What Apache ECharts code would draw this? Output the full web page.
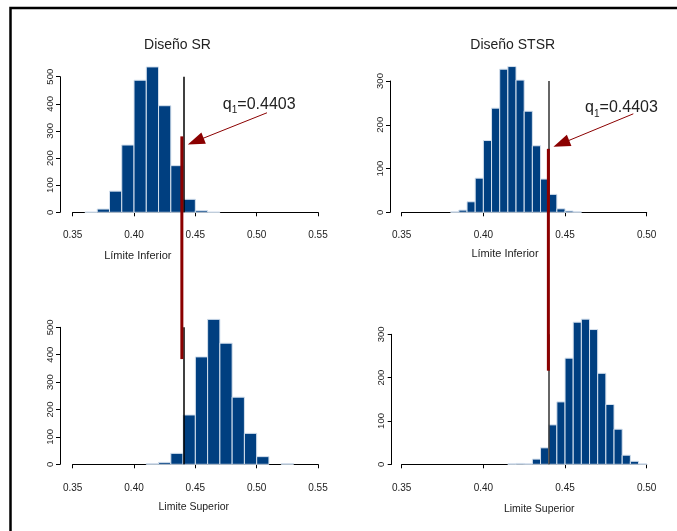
<!DOCTYPE html>
<html>
<head>
<meta charset="utf-8">
<title>Diseño SR / STSR</title>
<script src="https://cdn.jsdelivr.net/npm/echarts@6/dist/echarts.min.js"></script>
<style>
  html, body { margin: 0; padding: 0; background: #fff; }
  #main { width: 677px; height: 531px; }
</style>
</head>
<body>
<div id="main"></div>
<script>
  // bordes de clase y frecuencias de cada histograma
  const srInfEdges = [0.36, 0.37, 0.38, 0.39, 0.40, 0.41, 0.42, 0.43, 0.44, 0.45, 0.46, 0.47];
  const srInfCounts = [1, 12, 78, 248, 487, 536, 393, 172, 48, 6, 1];

  const srSupEdges = [0.41, 0.42, 0.43, 0.44, 0.45, 0.46, 0.47, 0.48, 0.49, 0.50, 0.51, 0.52, 0.53];
  const srSupCounts = [2, 7, 40, 180, 392, 529, 442, 245, 113, 28, 0, 2];

  const stsrInfEdges = [0.38, 0.385, 0.39, 0.395, 0.40, 0.405, 0.41, 0.415, 0.42, 0.425, 0.43, 0.435, 0.44, 0.445, 0.45, 0.455, 0.46];
  const stsrInfCounts = [1, 5, 24, 78, 164, 238, 327, 333, 302, 231, 152, 76, 41, 8, 3, 1];

  const stsrSupEdges = [0.415, 0.42, 0.425, 0.43, 0.435, 0.44, 0.445, 0.45, 0.455, 0.46, 0.465, 0.47, 0.475, 0.48, 0.485, 0.49, 0.495, 0.50];
  const stsrSupCounts = [1, 2, 1, 12, 38, 91, 144, 245, 328, 335, 311, 210, 138, 81, 21, 7, 1];

  const titles = ['Diseño SR', 'Diseño STSR'];
  const xNames = ['Límite Inferior', 'Límite Inferior', 'Limite Superior', 'Limite Superior'];
  const xRangeSR = [0.35, 0.55];
  const xRangeSTSR = [0.35, 0.50];
  const yMaxSR = 500;
  const yMaxSTSR = 300;

  const q1 = 0.4403;
  // linea roja: x, y en panel superior, y en panel inferior
  const redSR = [0.4390, 280, 384];
  const redSTSR = [0.4398, 145, 216];
  // flechas: [inicio, fin]
  const arrowSR = [[0.5084, 367], [0.4503, 262]];
  const arrowSTSR = [[0.4918, 225], [0.4477, 157]];

  const font = 'Liberation Sans, Arial, sans-serif';
  const chart = echarts.init(document.getElementById('main'));

  const grids = [
    { left: 72.7, top: 76.7, width: 245.3, height: 135.6 },
    { left: 401.7, top: 81, width: 245, height: 131.3 },
    { left: 72.7, top: 327.3, width: 245.3, height: 137 },
    { left: 401.7, top: 334.3, width: 245, height: 130 }
  ];
  const xOffsets = [7.7, 7.7, 6.4, 6.4];
  const yOffsets = [12.7, 11.7, 12.7, 10];
  const xRanges = [xRangeSR, xRangeSTSR, xRangeSR, xRangeSTSR];
  const yMaxes = [yMaxSR, yMaxSTSR, yMaxSR, yMaxSTSR];

  const xAxes = grids.map((g, i) => ({
    gridIndex: i,
    type: 'value',
    min: xRanges[i][0],
    max: xRanges[i][1],
    interval: 0.05,
    offset: xOffsets[i],
    axisLine: { show: true, lineStyle: { color: '#000', width: 1 } },
    axisTick: { show: true, length: 4, lineStyle: { color: '#000' } },
    axisLabel: {
      margin: i < 2 ? 10.5 : 13,
      fontSize: 10,
      fontFamily: font,
      color: '#222',
      showMinLabel: true,
      showMaxLabel: true,
      formatter: v => v.toFixed(2)
    },
    splitLine: { show: false }
  }));

  const yAxes = grids.map((g, i) => ({
    gridIndex: i,
    type: 'value',
    min: 0,
    max: yMaxes[i],
    interval: 100,
    offset: yOffsets[i],
    axisLine: { show: true, lineStyle: { color: '#000', width: 1 } },
    axisTick: { show: true, length: 4, lineStyle: { color: '#000' } },
    axisLabel: { rotate: 90, margin: 5, fontSize: 9.5, fontFamily: font, color: '#222' },
    splitLine: { show: false }
  }));

  function hist(edges, counts, idx) {
    return {
      type: 'custom',
      xAxisIndex: idx,
      yAxisIndex: idx,
      clip: false,
      silent: true,
      encode: { x: [0, 1], y: 2 },
      data: counts.map((c, k) => [edges[k], edges[k + 1], c]),
      renderItem: function (params, api) {
        if (api.value(2) <= 0) return null;
        const a = api.coord([api.value(0), 0]);
        const b = api.coord([api.value(1), api.value(2)]);
        return {
          type: 'rect',
          shape: { x: a[0], y: b[1], width: b[0] - a[0], height: a[1] - b[1] },
          style: { fill: '#003f80', stroke: '#d5e1ee', lineWidth: 1 }
        };
      }
    };
  }

  function qLine(idx, top, color) {
    return {
      type: 'line',
      xAxisIndex: idx,
      yAxisIndex: idx,
      data: [],
      markLine: {
        silent: true,
        animation: false,
        symbol: 'none',
        label: { show: false },
        lineStyle: { color: color, width: 1.5, type: 'solid' },
        data: [[{ coord: [q1, 0] }, { coord: [q1, top] }]]
      }
    };
  }

  function arrow(idx, pts) {
    return {
      type: 'line',
      xAxisIndex: idx,
      yAxisIndex: idx,
      data: [],
      z: 20,
      markLine: {
        silent: true,
        animation: false,
        label: { show: false },
        lineStyle: { color: '#8b0000', width: 1, type: 'solid' },
        data: [[
          { coord: pts[0], symbol: 'none' },
          { coord: pts[1], symbol: 'triangle', symbolSize: [12, 17] }
        ]]
      }
    };
  }

  const option = {
    animation: false,
    grid: grids.map(g => Object.assign({ outerBoundsMode: 'none', containLabel: false }, g)),
    xAxis: xAxes,
    yAxis: yAxes,
    series: [
      hist(srInfEdges, srInfCounts, 0),
      hist(stsrInfEdges, stsrInfCounts, 1),
      hist(srSupEdges, srSupCounts, 2),
      hist(stsrSupEdges, stsrSupCounts, 3),
      qLine(0, yMaxSR, '#000'),
      qLine(1, yMaxSTSR, '#333'),
      qLine(2, yMaxSR, '#000'),
      qLine(3, yMaxSTSR, '#333'),
      arrow(0, arrowSR),
      arrow(1, arrowSTSR)
    ]
  };
  chart.setOption(option);

  function redLine(col, spec) {
    const pTop = chart.convertToPixel({ gridIndex: col }, [spec[0], spec[1]]);
    const pBot = chart.convertToPixel({ gridIndex: col + 2 }, [spec[0], spec[2]]);
    return {
      type: 'line',
      z: 100,
      silent: true,
      shape: { x1: pTop[0], y1: pTop[1], x2: pTop[0], y2: pBot[1] },
      style: { stroke: '#8b0000', lineWidth: 3 }
    };
  }

  function txt(x, y, text, size, align) {
    return {
      type: 'text',
      x: x,
      y: y,
      z: 100,
      silent: true,
      style: {
        text: text,
        font: size + 'px ' + font,
        fill: '#222',
        align: align || 'center',
        verticalAlign: 'middle'
      }
    };
  }

  function qText(x, y) {
    return [
      txt(x, y, 'q', 16, 'left'),
      txt(x + 9, y + 6, '1', 10, 'left'),
      txt(x + 14.6, y, '=' + q1.toFixed(4), 16, 'left')
    ];
  }

  chart.setOption({
    graphic: [
      {
        type: 'polyline',
        silent: true,
        shape: { points: [[10.5, 531], [10.5, 8], [677, 8]] },
        style: { stroke: '#000', lineWidth: 2.5, fill: null }
      },
      txt(177.5, 45, titles[0], 14),
      txt(512.7, 45, titles[1], 14),
      txt(137.8, 256, xNames[0], 11),
      txt(505, 254, xNames[1], 11),
      txt(193.8, 507.5, xNames[2], 10.5),
      txt(539.2, 509.5, xNames[3], 10.5),
      ...qText(222.7, 104.5),
      ...qText(585, 108),
      redLine(0, redSR),
      redLine(1, redSTSR)
    ]
  });
</script>
</body>
</html>
